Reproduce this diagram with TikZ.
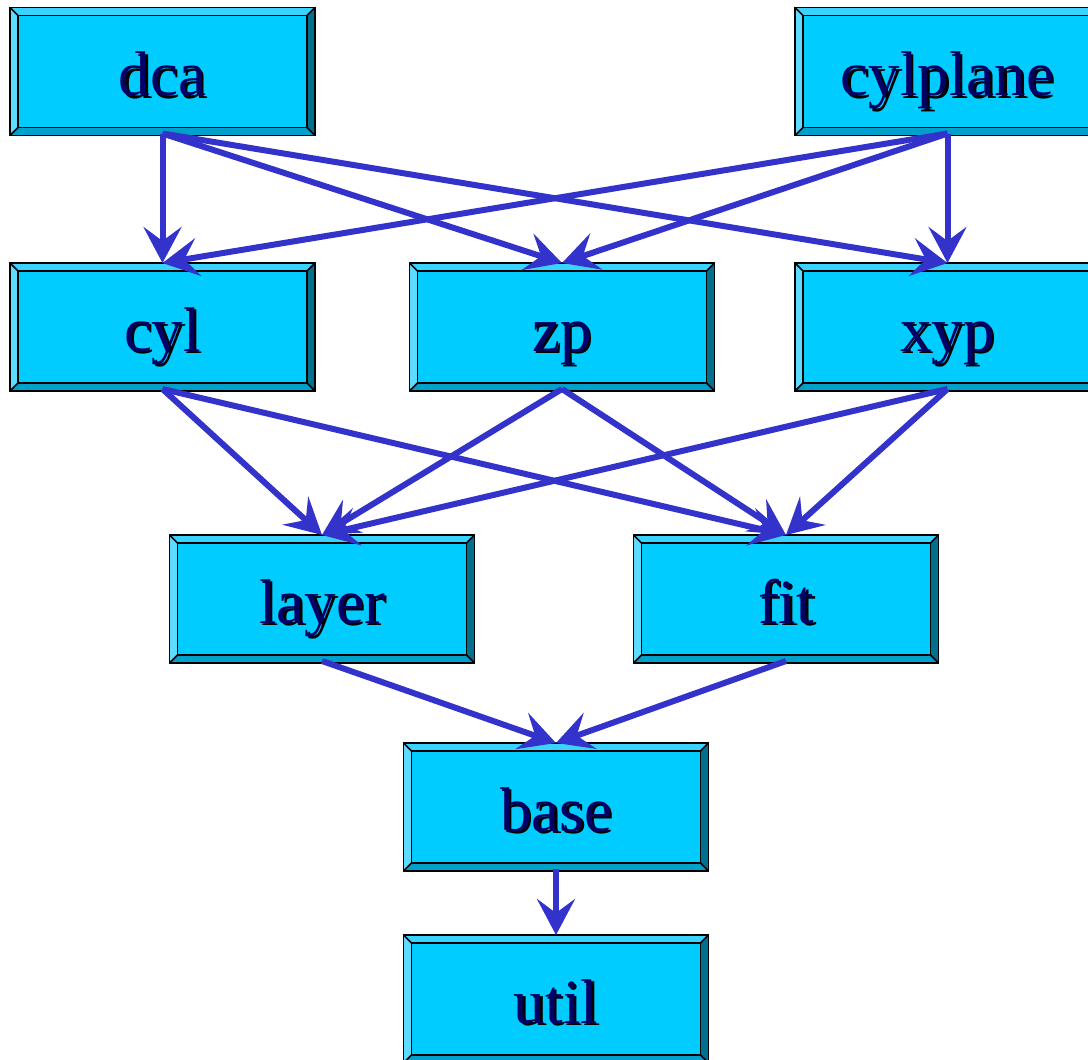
\documentclass[tikz,border=0pt]{standalone}
\usepackage{fontspec}
\setmainfont{Liberation Serif}
\usetikzlibrary{arrows.meta}
\definecolor{boxfill}{HTML}{00CCFF}
\definecolor{bevtop}{HTML}{38D4FF}
\definecolor{bevleft}{HTML}{5CDDFF}
\definecolor{bevbottom}{HTML}{00A0CC}
\definecolor{bevright}{HTML}{00708E}
\definecolor{navytext}{HTML}{000066}
\definecolor{arrowc}{HTML}{3333CC}
\tikzset{
  boxshape/.style={rectangle, minimum width=305pt, minimum height=128pt, inner sep=0pt, outer sep=0pt},
  frame/.style={draw=black, line width=1.6pt},
  lbl/.style={inner sep=0pt, anchor=base, text=navytext, font=\fontsize{63}{63}\selectfont},
  conn/.style={draw=arrowc, line width=6pt, -{Stealth[length=36pt,width=38pt,inset=14pt]}},
}
\newcommand\shadowed[1]{\makebox[0pt][l]{\hspace{2.5pt}\raisebox{-2.5pt}{\color{black}#1}}#1}
\newcommand\bevbox[4]{%
  \node[boxshape] (#1) at (#2,#3) {};
  \fill[bevtop] (#1.north west) -- (#1.north east) -- ([shift={(-8,8)}]#1.north east) -- ([shift={(8,8)}]#1.north west) -- cycle;
  \fill[bevbottom] (#1.south west) -- (#1.south east) -- ([shift={(-8,-8)}]#1.south east) -- ([shift={(8,-8)}]#1.south west) -- cycle;
  \fill[bevleft] (#1.north west) -- (#1.south west) -- ([shift={(8,-8)}]#1.south west) -- ([shift={(8,8)}]#1.north west) -- cycle;
  \fill[bevright] (#1.north east) -- (#1.south east) -- ([shift={(-8,-8)}]#1.south east) -- ([shift={(-8,8)}]#1.north east) -- cycle;
  \fill[boxfill] ([shift={(8,8)}]#1.north west) rectangle ([shift={(-8,-8)}]#1.south east);
  \draw[frame] (#1.north west) rectangle (#1.south east);
  \draw[frame] ([shift={(8,8)}]#1.north west) rectangle ([shift={(-8,-8)}]#1.south east);
  \draw[frame] (#1.north west) -- ([shift={(8,8)}]#1.north west)
               (#1.north east) -- ([shift={(-8,8)}]#1.north east)
               (#1.south west) -- ([shift={(8,-8)}]#1.south west)
               (#1.south east) -- ([shift={(-8,-8)}]#1.south east);
  \node[lbl] (#1-text) at ([shift={(0,24)}]#1.center) {\shadowed{#4}};
}
\begin{document}
\begin{tikzpicture}[x=1pt,y=-1pt]
\useasboundingbox (0,0) rectangle (1088,1060);
\fill[white] (0,0) rectangle (1088,1060);
\bevbox{dca}{162.5}{71.5}{dca}
\bevbox{cylplane}{947.5}{71.5}{cylplane}
\bevbox{cyl}{162.5}{327}{cyl}
\bevbox{zp}{562}{327}{zp}
\bevbox{xyp}{947.5}{327}{xyp}
\bevbox{layer}{322}{599}{layer}
\bevbox{fit}{786}{599}{fit}
\bevbox{base}{556}{807}{base}
\bevbox{util}{556}{999}{util}
\foreach \s/\t in {dca/cyl, dca/zp, dca/xyp, cylplane/cyl, cylplane/zp, cylplane/xyp,
  cyl/layer, cyl/fit, zp/layer, zp/fit, xyp/layer, xyp/fit, layer/base, fit/base, base/util}
  \draw[conn] ([yshift=2pt]\s.south) -- (\t.north);
\end{tikzpicture}
\end{document}
